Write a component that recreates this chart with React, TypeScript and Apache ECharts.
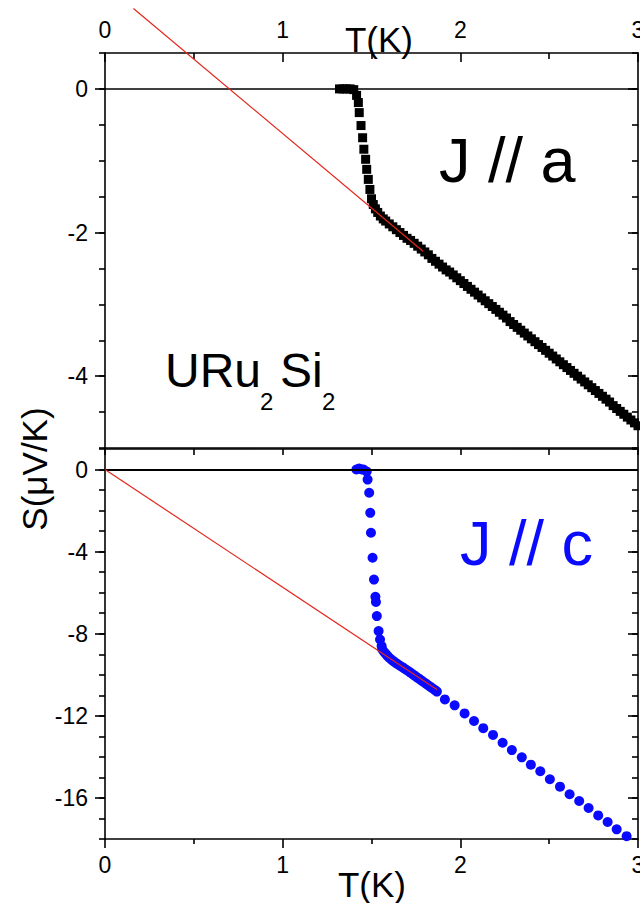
import React, { useEffect, useRef } from "react";
import * as echarts from "echarts";

// J // a : thermopower of URu2Si2, current along a
const tA = [
  1.32, 1.34, 1.36, 1.38, 1.40, 1.416, 1.426, 1.431, 1.441, 1.450, 1.457, 1.467, 1.473, 1.482, 1.491,
  1.500, 1.510, 1.522, 1.535, 1.550, 1.566, 1.58, 1.60, 1.62, 1.64, 1.66, 1.68, 1.70, 1.72, 1.74,
  1.76, 1.78, 1.80, 1.82, 1.84, 1.86, 1.88, 1.90, 1.92, 1.94, 1.96, 1.98, 2.00, 2.02, 2.04, 2.06,
  2.08, 2.10, 2.12, 2.14, 2.16, 2.18, 2.20, 2.22, 2.24, 2.26, 2.28, 2.30, 2.32, 2.34, 2.36, 2.38,
  2.40, 2.42, 2.44, 2.46, 2.48, 2.50, 2.52, 2.54, 2.56, 2.58, 2.60, 2.62, 2.64, 2.66, 2.68, 2.70,
  2.72, 2.74, 2.76, 2.78, 2.80, 2.82, 2.84, 2.86, 2.88, 2.90, 2.92, 2.94, 2.96, 2.98, 3.00,
];
const sA = [
  0.0, 0.0, 0.0, 0.0, -0.01, -0.09, -0.19, -0.33, -0.51, -0.68, -0.84, -0.98, -1.12, -1.26, -1.40,
  -1.53, -1.61, -1.67, -1.72, -1.77, -1.81, -1.84, -1.88, -1.92, -1.96, -2.0, -2.04, -2.08, -2.11, -2.15,
  -2.19, -2.23, -2.27, -2.31, -2.36, -2.40, -2.44, -2.48, -2.52, -2.55, -2.59, -2.63, -2.67, -2.71, -2.75, -2.79,
  -2.83, -2.87, -2.91, -2.95, -2.99, -3.03, -3.07, -3.11, -3.15, -3.19, -3.24, -3.28, -3.32, -3.36, -3.40, -3.44,
  -3.48, -3.52, -3.56, -3.60, -3.64, -3.68, -3.72, -3.76, -3.80, -3.84, -3.88, -3.92, -3.96, -4.0, -4.04, -4.08,
  -4.12, -4.16, -4.20, -4.24, -4.28, -4.32, -4.36, -4.41, -4.45, -4.49, -4.53, -4.57, -4.61, -4.65, -4.69,
];

// J // c : current along c
const tC = [
  1.415, 1.43, 1.445, 1.455, 1.473, 1.478, 1.487, 1.493, 1.497, 1.506, 1.514, 1.522, 1.525, 1.530, 1.540,
  1.548, 1.557, 1.560, 1.570, 1.580, 1.590, 1.600, 1.612, 1.625, 1.638, 1.650, 1.663, 1.676, 1.689, 1.702,
  1.715, 1.728, 1.741, 1.754, 1.767, 1.780, 1.793, 1.806, 1.819, 1.832, 1.845, 1.858, 1.868,
  1.913, 1.968, 2.024, 2.077, 2.129, 2.184, 2.238, 2.290, 2.346, 2.397, 2.450, 2.504, 2.561, 2.615,
  2.669, 2.722, 2.776, 2.829, 2.880, 2.936,
];
const sC = [
  0.0, 0.05, 0.0, 0.0, -0.1, -0.49, -1.13, -2.11, -3.08, -4.30, -5.36, -6.2, -6.45, -7.14, -7.87,
  -8.28, -8.60, -8.75, -8.88, -8.98, -9.08, -9.17, -9.26, -9.35, -9.43, -9.50, -9.57, -9.64, -9.72, -9.79,
  -9.87, -9.95, -10.03, -10.11, -10.19, -10.27, -10.35, -10.43, -10.51, -10.59, -10.67, -10.75, -10.82,
  -11.2, -11.49, -11.88, -12.25, -12.60, -12.93, -13.31, -13.67, -14.02, -14.38, -14.70, -15.09, -15.45, -15.82,
  -16.15, -16.49, -16.85, -17.17, -17.53, -17.86,
];

// linear fits of the normal-state part
const fitAT = [0.16, 1.79];
const fitAS = [1.12, -2.26];
const fitCT = [0.0, 1.87];
const fitCS = [0.0, -10.73];

// tick labels
const xTicks = [0, 1, 2, 3];
const yTicksA = [0, -2, -4];
const yTicksC = [0, -4, -8, -12, -16];

const FONT = "'Liberation Sans', Arial, sans-serif";
const BLACK = "#000";
const BLUE = "#0a0aff";
const RED = "#e3261c";

const pairs = (xs: number[], ys: number[]) => xs.map((x, i) => [x, ys[i]]);

const lineStyle = { color: BLACK, width: 1.6 };

function yAxes(gridIndex: number, min: number, max: number, step: number, labels: number[]) {
  const base = { type: "value", gridIndex, min, max, splitLine: { show: false } };
  return [
    {
      ...base,
      position: "left",
      interval: step,
      axisLine: { show: true, onZero: false, lineStyle },
      axisTick: { show: true, inside: false, length: 6, lineStyle },
      axisLabel: {
        show: true,
        customValues: labels,
        margin: 17,
        fontSize: 23,
        fontFamily: FONT,
        color: BLACK,
      },
    },
    {
      ...base,
      position: "left",
      axisLine: { show: false, onZero: false },
      axisTick: { show: true, inside: false, length: 10, customValues: labels, lineStyle },
      axisLabel: { show: false },
    },
    {
      ...base,
      position: "right",
      interval: step,
      axisLine: { show: true, onZero: false, lineStyle },
      axisTick: { show: true, inside: true, length: 6, lineStyle },
      axisLabel: { show: false },
    },
    {
      ...base,
      position: "right",
      axisLine: { show: false, onZero: false },
      axisTick: { show: true, inside: true, length: 10, customValues: labels, lineStyle },
      axisLabel: { show: false },
    },
  ];
}

export default function App() {
  const ref = useRef<HTMLDivElement>(null);

  useEffect(() => {
    if (!ref.current) return;
    const chart = echarts.init(ref.current, undefined, { renderer: "svg" });

    const xBase = { type: "value", min: 0, max: 3, splitLine: { show: false } };
    const tickLabel = { fontSize: 23, fontFamily: FONT, color: BLACK };

    chart.setOption({
      animation: false,
      backgroundColor: "#fff",
      grid: [
        { left: 105, right: 2, top: 53, height: 395, containLabel: false, outerBoundsMode: "none" },
        { left: 105, right: 2, top: 449, height: 390, containLabel: false, outerBoundsMode: "none" },
      ],
      xAxis: [
        {
          ...xBase,
          gridIndex: 0,
          position: "top",
          interval: 1,
          axisLine: { show: true, onZero: false, lineStyle },
          axisTick: { show: true, inside: true, length: 9, lineStyle },
          minorTick: { show: true, splitNumber: 2, length: 6, lineStyle },
          axisLabel: { show: true, customValues: xTicks, margin: 12, ...tickLabel },
        },
        {
          ...xBase,
          gridIndex: 0,
          position: "bottom",
          axisLine: { show: true, onZero: false, lineStyle },
          axisTick: { show: false },
          axisLabel: { show: false },
        },
        {
          ...xBase,
          gridIndex: 1,
          position: "top",
          interval: 0.5,
          axisLine: { show: true, onZero: false, lineStyle },
          axisTick: { show: true, inside: true, length: 6, lineStyle },
          axisLabel: { show: false },
        },
        {
          ...xBase,
          gridIndex: 1,
          position: "bottom",
          interval: 1,
          axisLine: { show: true, onZero: false, lineStyle },
          axisTick: { show: true, inside: false, length: 9, lineStyle },
          minorTick: { show: true, splitNumber: 2, length: 5, lineStyle },
          axisLabel: { show: true, customValues: xTicks, margin: 14, ...tickLabel },
        },
      ],
      yAxis: [...yAxes(0, -5, 0.5, 0.5, yTicksA), ...yAxes(1, -18, 1, 1, yTicksC)],
      series: [
        {
          type: "scatter",
          xAxisIndex: 0,
          yAxisIndex: 0,
          symbol: "rect",
          symbolSize: 9,
          itemStyle: { color: BLACK, opacity: 1 },
          data: pairs(tA, sA),
          z: 3,
          markLine: {
            silent: true,
            symbol: "none",
            label: { show: false },
            lineStyle: { color: BLACK, width: 1.5, type: "solid" },
            data: [{ yAxis: 0 }],
          },
        },
        {
          type: "line",
          xAxisIndex: 0,
          yAxisIndex: 0,
          showSymbol: false,
          clip: false,
          lineStyle: { color: RED, width: 1.2 },
          data: pairs(fitAT, fitAS),
          z: 5,
        },
        {
          type: "scatter",
          xAxisIndex: 3,
          yAxisIndex: 4,
          symbol: "circle",
          symbolSize: 10,
          itemStyle: { color: BLUE, opacity: 1 },
          data: pairs(tC, sC),
          z: 3,
          markLine: {
            silent: true,
            symbol: "none",
            label: { show: false },
            lineStyle: { color: BLACK, width: 2, type: "solid" },
            data: [{ yAxis: 0 }],
          },
        },
        {
          type: "line",
          xAxisIndex: 3,
          yAxisIndex: 4,
          showSymbol: false,
          lineStyle: { color: RED, width: 1.2 },
          data: pairs(fitCT, fitCS),
          z: 5,
        },
      ],
      graphic: [
        {
          type: "text",
          x: 379,
          y: 39,
          style: { text: "T(K)", fontSize: 35, fontFamily: FONT, fill: BLACK, align: "center", verticalAlign: "middle" },
        },
        {
          type: "text",
          x: 372,
          y: 884,
          style: { text: "T(K)", fontSize: 35, fontFamily: FONT, fill: BLACK, align: "center", verticalAlign: "middle" },
        },
        {
          type: "text",
          x: 34,
          y: 469,
          rotation: Math.PI / 2,
          style: { text: "S(\u03bcV/K)", fontSize: 35, fontFamily: FONT, fill: BLACK, align: "center", verticalAlign: "middle" },
        },
        {
          type: "text",
          x: 439,
          y: 160,
          style: { text: "J // a", fontSize: 63, fontFamily: FONT, fill: BLACK, align: "left", verticalAlign: "middle" },
        },
        {
          type: "text",
          x: 460,
          y: 543,
          style: { text: "J // c", fontSize: 63, fontFamily: FONT, fill: BLUE, align: "left", verticalAlign: "middle" },
        },
        {
          type: "group",
          children: [
            {
              type: "text",
              x: 165,
              y: 370,
              style: { text: "URu", fontSize: 48, fontFamily: FONT, fill: BLACK, align: "left", verticalAlign: "middle" },
            },
            {
              type: "text",
              x: 260,
              y: 401,
              style: { text: "2", fontSize: 24, fontFamily: FONT, fill: BLACK, align: "left", verticalAlign: "middle" },
            },
            {
              type: "text",
              x: 280,
              y: 370,
              style: { text: "Si", fontSize: 48, fontFamily: FONT, fill: BLACK, align: "left", verticalAlign: "middle" },
            },
            {
              type: "text",
              x: 322,
              y: 401,
              style: { text: "2", fontSize: 24, fontFamily: FONT, fill: BLACK, align: "left", verticalAlign: "middle" },
            },
          ],
        },
      ],
    });

    return () => chart.dispose();
  }, []);

  return (
    <div
      ref={ref}
      style={{ position: "fixed", left: 0, top: 0, width: 640, height: 903, background: "#fff" }}
    />
  );
}
